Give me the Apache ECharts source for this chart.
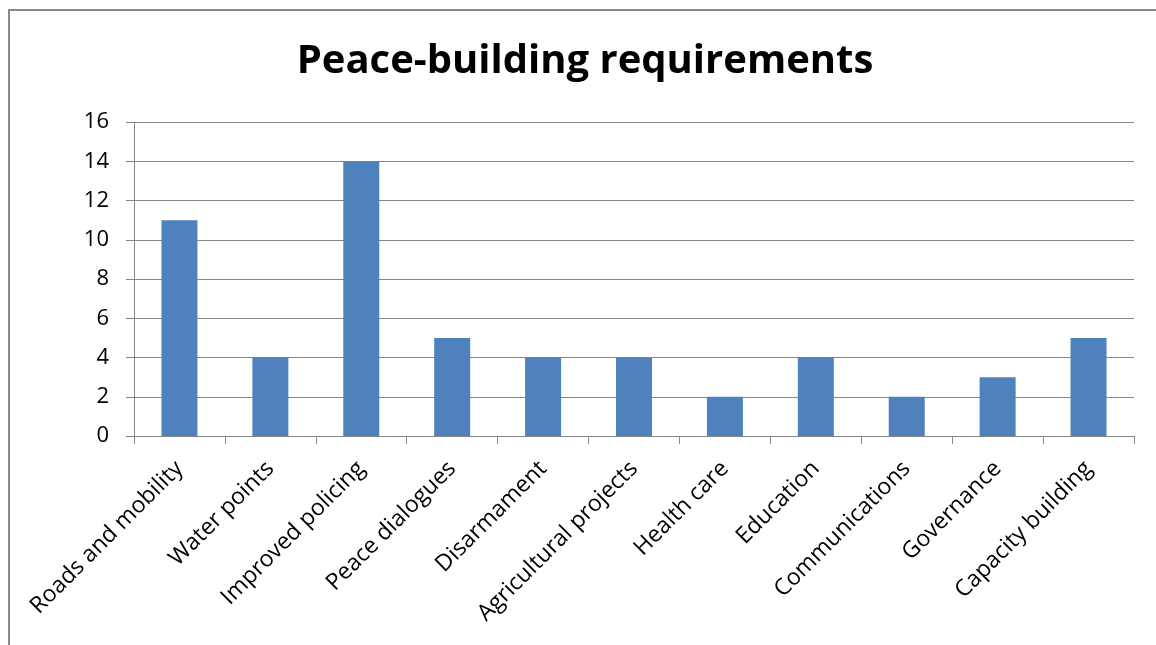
<!DOCTYPE html>
<html><head><meta charset="utf-8">
<script src="https://cdn.jsdelivr.net/npm/echarts@6/dist/echarts.min.js"></script>
<style>html,body{margin:0;padding:0;background:#fff}#c{width:1156px;height:645px}</style>
</head><body><div id="c"></div>
<script>
const categories = ['Roads and mobility','Water points','Improved policing','Peace dialogues','Disarmament','Agricultural projects','Health care','Education','Communications','Governance','Capacity building'];
const values = [11,4,14,5,4,4,2,4,2,3,5];
const yTicks = [0,2,4,6,8,10,12,14,16];
const title = 'Peace-building requirements';

const chart = echarts.init(document.getElementById('c'));
chart.setOption({
  animation:false,
  backgroundColor:'#fff',
  title:{text:title,left:580,top:37,textAlign:'center',textStyle:{fontFamily:'Open Sans',fontWeight:'bold',fontSize:40,color:'#000'}},
  graphic:[{type:'polyline',shape:{points:[[9,660],[9,10],[1170,10]]},style:{stroke:'#888',lineWidth:2,fill:null},silent:true}],
  grid:{left:134,right:22,top:122,bottom:209},
  xAxis:{type:'category',data:categories,
    axisLine:{lineStyle:{color:'#868686',width:1}},
    axisTick:{show:true,length:8,lineStyle:{color:'#868686'}},
    axisLabel:{rotate:45,interval:0,margin:29,color:'#000',fontFamily:'Open Sans',fontSize:23}},
  yAxis:{type:'value',min:yTicks[0],max:yTicks[yTicks.length-1],interval:2,
    axisLine:{show:true,lineStyle:{color:'#868686'}},
    axisTick:{show:true,length:8,lineStyle:{color:'#868686'}},
    splitLine:{lineStyle:{color:'#868686'}},
    axisLabel:{margin:25,color:'#000',fontFamily:'Open Sans',fontSize:22}},
  series:[{type:'bar',data:values,barWidth:36,itemStyle:{color:'#4F81BD'}}]
});
</script></body></html>
